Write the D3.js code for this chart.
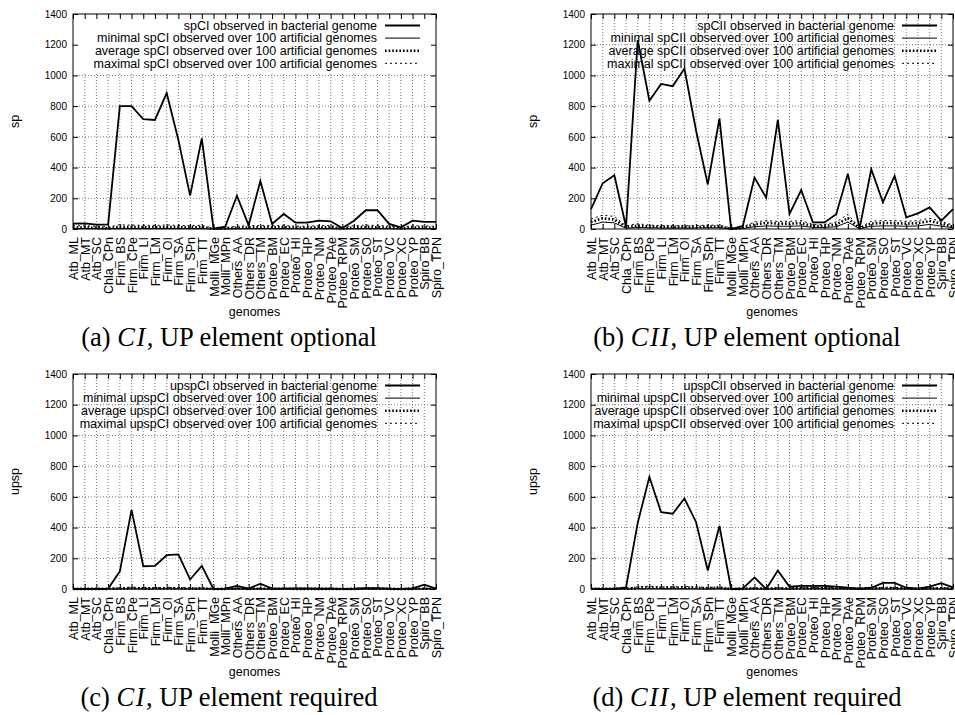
<!DOCTYPE html>
<html><head><meta charset="utf-8">
<script src="https://cdn.jsdelivr.net/npm/d3@7"></script>
<style>
body{margin:0;background:#fff;}
svg{display:block;}
text{font-family:"Liberation Sans",Arial,sans-serif;}
.cap{font-family:"Liberation Serif","Times New Roman",serif;}
</style></head>
<body><svg id="c" width="955" height="715"></svg>
<script>
const genomes = ["Atb_ML","Atb_MT","Atb_SC","Chla_CPn","Firm_BS","Firm_CPe","Firm_LI","Firm_LM","Firm_OI","Firm_SA","Firm_SPn","Firm_TT","Molli_MGe","Molli_MPn","Others_AA","Others_DR","Others_TM","Proteo_BM","Proteo_EC","Proteo_HI","Proteo_HP","Proteo_NM","Proteo_PAe","Proteo_RPM","Proteo_SM","Proteo_SO","Proteo_ST","Proteo_VC","Proteo_XC","Proteo_YP","Spiro_BB","Spiro_TPN"];
const yTicks = [0,200,400,600,800,1000,1200,1400];

const aObs = [35,37,28,28,800,800,716,710,885,580,217,590,2,15,217,24,313,33,98,41,41,54,50,7,54,122,122,33,11,54,46,46];
const aMin = [3,3,2,1,4,3,3,3,4,3,3,3,0,1,2,3,3,3,3,2,2,3,3,1,3,3,3,2,1,3,2,2];
const aAvg = [10,9,8,5,14,12,12,11,13,12,11,12,2,4,8,10,11,11,12,8,8,10,11,3,10,12,11,9,5,10,9,8];
const aMax = [22,20,18,12,28,25,24,23,26,24,22,24,6,10,18,22,23,22,24,18,18,22,23,8,22,25,23,20,12,22,20,18];

const bObs = [130,298,350,15,1230,835,945,930,1045,640,290,720,0,20,335,204,710,98,254,43,43,96,359,4,389,174,346,76,102,141,54,130];
const bMin = [25,45,40,5,10,8,6,6,6,6,8,8,0,3,15,20,18,18,20,10,10,15,45,2,18,20,20,18,20,30,18,8];
const bAvg = [45,70,62,12,22,16,14,14,14,14,16,16,2,8,30,40,35,35,38,20,20,30,70,5,35,40,38,35,38,52,35,15];
const bMax = [65,90,82,20,35,25,22,22,22,22,25,25,6,14,45,55,50,50,55,30,30,45,95,10,50,55,55,50,55,70,50,25];

const cObs = [0,0,0,2,115,515,148,150,220,225,62,150,0,2,20,2,35,2,3,4,4,2,2,1,2,6,6,2,1,4,28,2];
const cMin = [0,0,0,0,0,1,0,0,1,1,0,0,0,0,0,0,0,0,0,0,0,0,0,0,0,0,0,0,0,0,0,0];
const cAvg = [1,1,1,1,4,6,4,4,5,5,3,4,0,1,2,1,2,1,2,1,1,1,1,0,1,2,2,1,0,1,2,1];
const cMax = [3,3,3,3,8,12,8,8,10,10,6,8,1,2,5,2,5,3,4,3,3,3,3,1,3,5,5,3,1,3,5,2];

const dObs = [0,0,0,10,430,730,500,490,590,435,120,410,0,4,75,0,120,15,20,20,20,15,8,3,8,40,40,8,2,15,38,10];
const dMin = [0,0,0,0,1,2,1,1,1,1,0,1,0,0,0,0,0,0,1,1,1,1,0,0,0,1,1,0,0,0,1,0];
const dAvg = [2,2,2,2,8,10,8,8,9,8,5,8,0,1,4,2,5,3,6,6,6,5,4,1,4,6,6,4,1,4,5,3];
const dMax = [4,4,4,5,14,18,14,14,16,14,9,14,1,3,8,4,9,6,10,10,10,9,7,2,7,10,10,7,2,7,9,5];

const legendA = ["spCI observed in bacterial genome","minimal spCI observed over 100 artificial genomes","average spCI observed over 100 artificial genomes","maximal spCI observed over 100 artificial genomes"];
const legendB = ["spCII observed in bacterial genome","minimal spCII observed over 100 artificial genomes","average spCII observed over 100 artificial genomes","maximal spCII observed over 100 artificial genomes"];
const legendC = ["upspCI observed in bacterial genome","minimal upspCI observed over 100 artificial genomes","average upspCI observed over 100 artificial genomes","maximal upspCI observed over 100 artificial genomes"];
const legendD = ["upspCII observed in bacterial genome","minimal upspCII observed over 100 artificial genomes","average upspCII observed over 100 artificial genomes","maximal upspCII observed over 100 artificial genomes"];

const styles = [
  {w:1.8, dash:null},
  {w:1, dash:null},
  {w:2.6, dash:"1.6,2"},
  {w:1, dash:"2,3"}
];

const panels = [
  {series:[aObs,aMin,aAvg,aMax], legend:legendA, ylab:"sp", cap:["(a) ","CI",", UP element optional"], left:73, right:436, top:14, bottom:229, capX:229, capY:346, box:true},
  {series:[bObs,bMin,bAvg,bMax], legend:legendB, ylab:"sp", cap:["(b) ","CII",", UP element optional"], left:591, right:953, top:14, bottom:229, capX:747, capY:346, box:false},
  {series:[cObs,cMin,cAvg,cMax], legend:legendC, ylab:"upsp", cap:["(c) ","CI",", UP element required"], left:73, right:436, top:374, bottom:589, capX:229, capY:706, box:false},
  {series:[dObs,dMin,dAvg,dMax], legend:legendD, ylab:"upsp", cap:["(d) ","CII",", UP element required"], left:591, right:953, top:374, bottom:589, capX:747, capY:706, box:false}
];

const svg = d3.select("#c");
svg.append("rect").attr("width",955).attr("height",715).attr("fill","#fff");

panels.forEach(p => {
  const g = svg.append("g");
  const x = d3.scalePoint().domain(genomes).range([p.left,p.right]).padding(0);
  const y = d3.scaleLinear().domain([0,1400]).range([p.bottom,p.top]);
  const h = p.bottom - p.top, w = p.right - p.left;

  // grid
  const grid = g.append("g").attr("stroke","#555").attr("stroke-width",0.8).attr("stroke-dasharray","1,2");
  grid.selectAll("line.v").data(genomes.slice(1,-1)).join("line")
    .attr("x1",d=>x(d)).attr("x2",d=>x(d)).attr("y1",p.top).attr("y2",p.bottom);
  grid.selectAll("line.h").data(yTicks.slice(1,-1)).join("line")
    .attr("x1",p.left).attr("x2",p.right).attr("y1",d=>y(d)).attr("y2",d=>y(d));

  if (p.box) {
    g.append("rect").attr("x",p.left+1).attr("y",p.top+1).attr("width",w-2).attr("height",y(1000)-p.top-4).attr("fill","#fff");
  }

  // data lines
  const line = d3.line().x((d,i)=>x(genomes[i])).y(d=>y(d));
  p.series.forEach((s,k) => {
    g.append("path").datum(s).attr("d",line).attr("fill","none").attr("stroke","#000")
      .attr("stroke-width",styles[k].w).attr("stroke-dasharray",styles[k].dash);
  });

  // axes
  const ax = g.append("g").attr("font-size",12.5);
  const left = ax.append("g").attr("transform",`translate(${p.left},0)`)
    .call(d3.axisLeft(y).tickValues(yTicks).tickFormat(d3.format("d")).tickSizeInner(-5).tickSizeOuter(0).tickPadding(6));
  const right = ax.append("g").attr("transform",`translate(${p.right},0)`)
    .call(d3.axisRight(y).tickValues(yTicks).tickSizeInner(-5).tickSizeOuter(0).tickFormat(""));
  const top = ax.append("g").attr("transform",`translate(0,${p.top})`)
    .call(d3.axisTop(x).tickSizeInner(-5).tickSizeOuter(0).tickFormat(""));
  const bottom = ax.append("g").attr("transform",`translate(0,${p.bottom})`)
    .call(d3.axisBottom(x).tickSizeInner(-5).tickSizeOuter(0));
  [left,right,top,bottom].forEach(a => { a.select(".domain").remove(); a.selectAll("text").attr("font-family",'"Liberation Sans",Arial,sans-serif').attr("fill","#000"); a.selectAll("line").attr("stroke","#000"); });
  bottom.selectAll("text").attr("font-size",12.5).attr("transform","rotate(-90)").attr("x",-8).attr("y",0).attr("dy","0.36em").attr("text-anchor","end");

  g.append("rect").attr("x",p.left).attr("y",p.top).attr("width",w).attr("height",h)
    .attr("fill","none").attr("stroke","#000").attr("stroke-width",1);

  // legend
  const lg = g.append("g").attr("font-size",12.5);
  p.legend.forEach((t,k) => {
    const yy = p.top + 11.5 + k*12.6;
    lg.append("text").attr("x",p.right-59).attr("y",yy).attr("dy","0.35em").attr("text-anchor","end").text(t);
    lg.append("line").attr("x1",p.right-51).attr("x2",p.right-16).attr("y1",yy).attr("y2",yy)
      .attr("stroke","#000").attr("stroke-width",styles[k].w).attr("stroke-dasharray",styles[k].dash);
  });

  // axis titles
  g.append("text").attr("x",(p.left+p.right)/2).attr("y",p.bottom+87).attr("text-anchor","middle").attr("font-size",12.5).text("genomes");
  g.append("text").attr("transform",`translate(${p.left-58},${(p.top+p.bottom)/2}) rotate(-90)`)
    .attr("text-anchor","middle").attr("dy","0.35em").attr("font-size",12.5).text(p.ylab);

  // caption
  const cap = g.append("text").attr("class","cap").attr("x",p.capX).attr("y",p.capY).attr("text-anchor","middle").attr("font-size",26.5);
  cap.append("tspan").text(p.cap[0]);
  cap.append("tspan").attr("font-style","italic").attr("letter-spacing",1.5).text(p.cap[1]);
  cap.append("tspan").text(p.cap[2]);
});
</script></body></html>
